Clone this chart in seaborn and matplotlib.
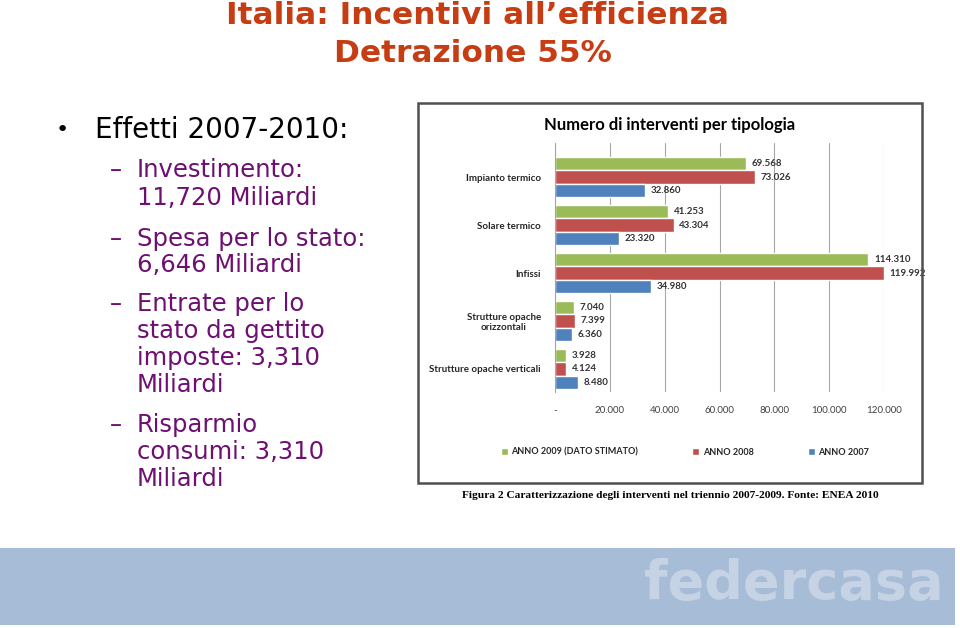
import numpy as np
import pandas as pd
import matplotlib.pyplot as plt
import seaborn as sns
from matplotlib.patches import Rectangle

W, H = 960, 628

# --- data ------------------------------------------------------------------
categories = ["Impianto termico", "Solare termico", "Infissi",
              "Strutture opache\norizzontali", "Strutture opache verticali"]
series = ["ANNO 2009 (DATO STIMATO)", "ANNO 2008", "ANNO 2007"]
anno_2009 = [69568, 41253, 114310, 7040, 3928]
anno_2008 = [73026, 43304, 119992, 7399, 4124]
anno_2007 = [32860, 23320, 34980, 6360, 8480]
x_ticks = [0, 20000, 40000, 60000, 80000, 100000, 120000]
x_tick_labels = ["-", "20.000", "40.000", "60.000", "80.000", "100.000", "120.000"]
colors = ["#9BBB59", "#C0504D", "#4F81BD"]

title_lines = ["Italia: Incentivi all\u2019efficienza", "Detrazione 55%"]
bullet_main = "Effetti 2007-2010:"
sub_items = [
    ["Investimento:", "11,720 Miliardi"],
    ["Spesa per lo stato:", "6,646 Miliardi"],
    ["Entrate per lo", "stato da gettito", "imposte: 3,310", "Miliardi"],
    ["Risparmio", "consumi: 3,310", "Miliardi"],
]
chart_title = "Numero di interventi per tipologia"
caption = ("Figura 2 Caratterizzazione degli interventi nel triennio 2007-2009. "
           "Fonte: ENEA 2010")
logo = "federcasa"

df = pd.DataFrame({
    "tipologia": categories * 3,
    "anno": [s for s in series for _ in categories],
    "interventi": anno_2009 + anno_2008 + anno_2007,
})


def px(x, y):
    return x / W, 1 - y / H


def fmt(v):
    return f"{int(v):,}".replace(",", ".")


sns.set_style("white")
plt.rcParams["font.family"] = ["DejaVu Sans"]

fig = plt.figure(figsize=(W / 100, H / 100), dpi=100)
fig.patch.set_facecolor("white")

# --- slide title --------------------------------------------------------------
red = "#C63D14"
fig.text(*px(478, 16), title_lines[0], ha="center", va="center",
         fontsize=22.5, fontweight="bold", color=red)
fig.text(*px(473, 53), title_lines[1], ha="center", va="center",
         fontsize=22.5, fontweight="bold", color=red)

# --- bullet text --------------------------------------------------------------
fig.text(*px(62, 130), "\u2022", ha="center", va="center", fontsize=16, color="black")
fig.text(*px(95, 130), bullet_main, ha="left", va="center", fontsize=20, color="black")

purple = "#6E0F72"
line_y = [[170, 198], [239, 265], [304, 331, 358, 385], [425, 452, 479]]
for lines, ys in zip(sub_items, line_y):
    fig.text(*px(116, ys[0]), "\u2013", ha="center", va="center",
             fontsize=17.5, color=purple)
    for txt, y in zip(lines, ys):
        fig.text(*px(137, y), txt, ha="left", va="center", fontsize=17.5, color=purple)

# --- chart picture frame ------------------------------------------------------
fig.patches.append(Rectangle(px(418, 483), 504 / W, 380 / H, transform=fig.transFigure,
                             fill=False, ec="#505050", lw=1.8, zorder=5))
fig.text(*px(670, 125), chart_title, ha="center", va="center",
         fontsize=12, fontweight="bold", family="Lato", color="black")

ax = fig.add_axes([555 / W, 1 - 392 / H, 329 / W, 249 / H])
sns.barplot(data=df, y="tipologia", x="interventi", hue="anno", hue_order=series,
            order=categories, palette=colors, orient="h", width=0.83,
            saturation=1, ax=ax)

for cont in ax.containers:
    vals = [b.get_width() for b in cont]
    ax.bar_label(cont, labels=[fmt(v) for v in vals], padding=4,
                 fontsize=7, fontweight="bold", family="Lato", color="#333333",
                 clip_on=False)

ax.set_xlim(0, 120000)
ax.set_ylim(4.48, -0.71)
ax.set_xticks(x_ticks)
ax.set_xticklabels(x_tick_labels, family="Lato", fontsize=7, color="#404040")
ax.tick_params(axis="x", length=0, pad=10)
ax.tick_params(axis="y", length=0, pad=10)
for lab in ax.get_yticklabels():
    lab.set_family("Lato")
    lab.set_fontweight("bold")
    lab.set_fontsize(7)
    lab.set_multialignment("center")
ax.set_xlabel("")
ax.set_ylabel("")
ax.xaxis.grid(True, color="#A6A6A6", lw=0.8)
ax.set_axisbelow(True)
for side in ["top", "right", "bottom"]:
    ax.spines[side].set_visible(False)
ax.spines["left"].set_color("#A6A6A6")
ax.patch.set_alpha(0)

ax.legend(loc="center", bbox_to_anchor=px(685, 452), bbox_transform=fig.transFigure,
          ncol=3, frameon=False, prop=dict(family="Lato", weight="bold", size=6.5),
          handlelength=0.75, handleheight=0.75, handletextpad=0.4, columnspacing=6.0)

fig.text(*px(670, 496), caption, ha="center", va="center", fontsize=8.2,
         fontweight="bold", family="Liberation Serif", color="black")

# --- bottom banner ------------------------------------------------------------
fig.patches.append(Rectangle(px(0, 625), 955 / W, 77 / H, transform=fig.transFigure,
                             fc="#A7BCD6", ec="none", zorder=0))
fig.text(*px(794, 584), logo, ha="center", va="center", fontsize=39,
         fontweight="bold", color="#C5D3E4")

plt.savefig("out.png", dpi=100)
plt.close()
